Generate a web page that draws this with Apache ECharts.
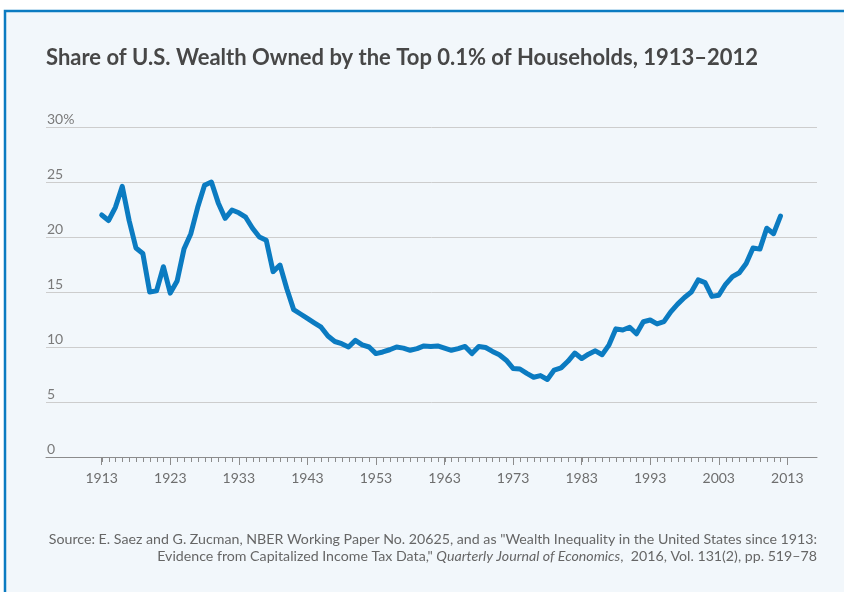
<!DOCTYPE html>
<html>
<head>
<meta charset="utf-8">
<title>Share of U.S. Wealth Owned by the Top 0.1% of Households</title>
<script src="https://cdn.jsdelivr.net/npm/echarts@6/dist/echarts.min.js"></script>
<style>
  html, body { margin: 0; padding: 0; background: #ffffff; }
  #chart { width: 844px; height: 592px; }
</style>
</head>
<body>
<div id="chart"></div>
<script>
// Share of total household wealth held by the top 0.1%, percent, 1913–2012
const firstYear = 1913;
const shareTop01 = [
  22.0, 21.5, 22.7, 24.6, 21.5, 19.0, 18.5, 15.0, 15.1, 17.3,   // 1913–1922
  14.9, 16.0, 18.9, 20.3, 22.7, 24.7, 25.0, 23.1, 21.7, 22.45,  // 1923–1932
  22.2, 21.8, 20.8, 20.0, 19.7, 16.85, 17.45, 15.3, 13.4, 13.0, // 1933–1942
  12.6, 12.2, 11.8, 11.0, 10.5, 10.3, 10.0, 10.6, 10.2, 10.0,   // 1943–1952
  9.4, 9.55, 9.75, 10.0, 9.9, 9.7, 9.85, 10.1, 10.05, 10.1,     // 1953–1962
  9.9, 9.7, 9.85, 10.05, 9.4, 10.05, 9.95, 9.6, 9.3, 8.8,       // 1963–1972
  8.05, 8.0, 7.6, 7.25, 7.4, 7.05, 7.9, 8.1, 8.7, 9.45,         // 1973–1982
  8.95, 9.35, 9.65, 9.3, 10.2, 11.65, 11.55, 11.8, 11.2, 12.3,  // 1983–1992
  12.45, 12.1, 12.3, 13.2, 13.9, 14.5, 15.0, 16.1, 15.85, 14.6, // 1993–2002
  14.7, 15.7, 16.4, 16.75, 17.6, 19.0, 18.9, 20.8, 20.3, 21.9   // 2003–2012
];
const years = shareTop01.map((_, i) => firstYear + i);

// Axis ticks and labels
const xLabelYears = [1913, 1923, 1933, 1943, 1953, 1963, 1973, 1983, 1993, 2003, 2013];
const xMinorYears = [];
for (let y = 1913; y <= 2013; y++) xMinorYears.push(y);
const yTicks = [0, 5, 10, 15, 20, 25, 30];

const FONT = 'Lato, "Noto Sans", sans-serif';
const BLUE = '#0b7bc1';
const AXIS_GREY = '#8c8c8c';
const X_MIN = 1904.876;
const X_MAX = 2017.33;

const chart = echarts.init(document.getElementById('chart'), null, { renderer: 'canvas' });

chart.setOption({
  backgroundColor: '#ffffff',
  animation: false,
  title: {
    text: 'Share of U.S. Wealth Owned by the Top 0.1% of Households, 1913–2012',
    left: 46,
    top: 47,
    padding: 0,
    textStyle: { fontFamily: FONT, fontSize: 22, fontWeight: 'bold', color: '#474747' }
  },
  grid: { left: 46, right: 27, top: 127, bottom: 135, containLabel: false },
  xAxis: {
    type: 'value',
    min: X_MIN,
    max: X_MAX,
    axisLine: { show: true, lineStyle: { color: AXIS_GREY, width: 1 } },
    axisTick: { show: true, customValues: xLabelYears, length: 8, lineStyle: { color: AXIS_GREY, width: 1 } },
    axisLabel: {
      show: true, customValues: xLabelYears, margin: 14,
      fontFamily: FONT, fontSize: 14, color: '#6e6e6e',
      formatter: v => String(v)
    },
    splitLine: { show: false }
  },
  yAxis: {
    type: 'value',
    min: 0,
    max: 30,
    interval: 5,
    axisLine: { show: false },
    axisTick: { show: false },
    axisLabel: {
      inside: true,
      margin: 1,
      verticalAlign: 'bottom',
      padding: [0, 0, 1, 0],
      fontFamily: FONT, fontSize: 14, color: '#7a7a7a',
      formatter: v => (v === yTicks[yTicks.length - 1] ? v + '%' : String(v))
    },
    splitLine: { show: true, lineStyle: { color: '#cdcdcd', width: 1 } }
  },
  series: [
    {
      // yearly minor ticks hanging below the x axis
      type: 'custom',
      silent: true,
      clip: false,
      z: 6,
      data: xMinorYears.map(y => [y, 0]),
      renderItem: (params, api) => {
        const p = api.coord([api.value(0), 0]);
        const x = Math.round(p[0]) + 0.5;
        return {
          type: 'line',
          shape: { x1: x, y1: p[1], x2: x, y2: p[1] + 5 },
          style: { stroke: AXIS_GREY, lineWidth: 1 }
        };
      }
    },
    {
      type: 'line',
      data: years.map((y, i) => [y, shareTop01[i]]),
      showSymbol: false,
      smooth: false,
      lineStyle: { color: BLUE, width: 5, join: 'round', cap: 'round' },
      z: 5
    }
  ],
  graphic: [
    {
      type: 'rect',
      z: -10,
      silent: true,
      shape: { x: 5, y: 11, width: 900, height: 700 },
      style: { fill: '#f2f7fb', stroke: BLUE, lineWidth: 2.5 }
    },
    {
      type: 'text',
      silent: true,
      style: {
        x: 817, y: 539, align: 'right', verticalAlign: 'middle',
        text: 'Source: E. Saez and G. Zucman, NBER Working Paper No. 20625, and as "Wealth Inequality in the United States since 1913:',
        font: '14.2px ' + FONT, fill: '#666666'
      }
    },
    {
      type: 'text',
      silent: true,
      style: {
        x: 817, y: 556, align: 'right', verticalAlign: 'middle',
        text: '{n|Evidence from Capitalized Income Tax Data," }{i|Quarterly Journal of Economics}{n|,  2016, Vol. 131(2), pp. 519–78}',
        font: '14.2px ' + FONT, fill: '#666666',
        rich: {
          n: { fontFamily: FONT, fontSize: 14.2, fill: '#666666', align: 'right' },
          i: { fontFamily: FONT, fontSize: 14.2, fontStyle: 'italic', fill: '#666666', align: 'right' }
        }
      }
    }
  ]
});
</script>
</body>
</html>
